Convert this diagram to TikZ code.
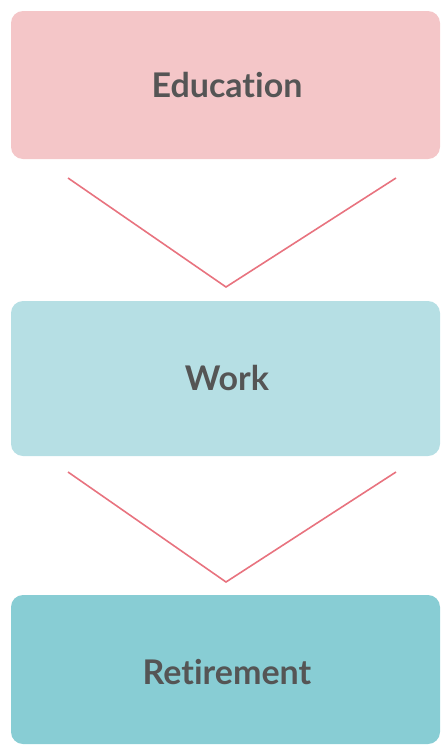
\documentclass[tikz,border=0pt]{standalone}
\usepackage{fontspec}
\setmainfont[Ligatures=NoCommon]{Lato}
\definecolor{edufill}{HTML}{F4C6C8}
\definecolor{workfill}{HTML}{B6DFE4}
\definecolor{retfill}{HTML}{88CDD4}
\definecolor{txt}{HTML}{555555}
\definecolor{chev}{HTML}{E8737F}
\begin{document}
\begin{tikzpicture}[x=1pt,y=-1pt,
  stagebox/.style={rounded corners=12pt, draw=none},
  stagelabel/.style={text=txt, font=\fontsize{34}{37}\selectfont\bfseries},
  chevline/.style={draw=chev, line width=1.6pt}]
\useasboundingbox (0,0) rectangle (441,745);
\fill[stagebox, edufill] (11,11) rectangle (440,159);
\fill[stagebox, workfill] (11,301) rectangle (440,456);
\fill[stagebox, retfill] (11,595) rectangle (440,744);
\node[stagelabel] (edu) at (227,85) {Education};
\node[stagelabel] (work) at (227,378) {Work};
\node[stagelabel] (ret) at (227,672) {Retirement};
\coordinate (a1) at (68,178);
\coordinate (a2) at (226,287);
\coordinate (a3) at (396,178);
\coordinate (b1) at (68,472);
\coordinate (b2) at (226,582);
\coordinate (b3) at (396,472);
\draw[chevline] (a1) -- (a2) -- (a3);
\draw[chevline] (b1) -- (b2) -- (b3);
\end{tikzpicture}
\end{document}
